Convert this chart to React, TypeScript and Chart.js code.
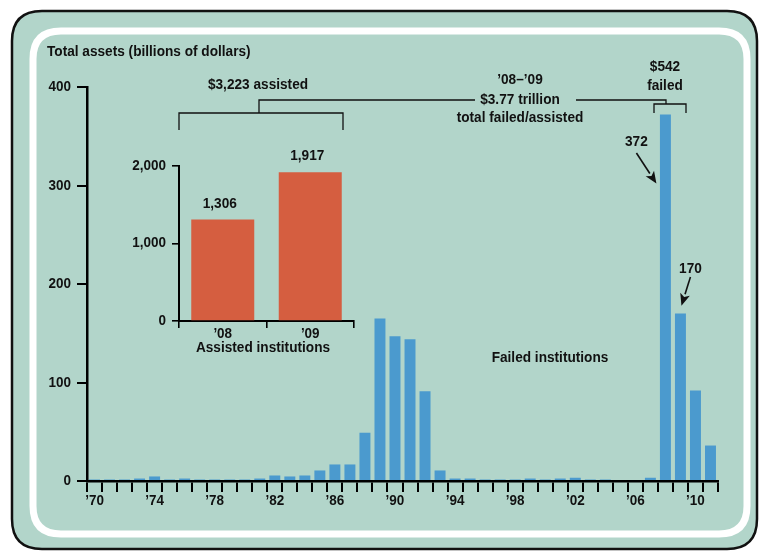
import React, { useEffect, useRef } from "react";
import { Chart, registerables } from "chart.js";

Chart.register(...registerables);

// ---------- data ----------
const categories = [
  "1970", "1971", "1972", "1973", "1974", "1975", "1976", "1977", "1978", "1979",
  "1980", "1981", "1982", "1983", "1984", "1985", "1986", "1987", "1988", "1989",
  "1990", "1991", "1992", "1993", "1994", "1995", "1996", "1997", "1998", "1999",
  "2000", "2001", "2002", "2003", "2004", "2005", "2006", "2007", "2008", "2009",
  "2010", "2011",
];
const failedAssets = [
  1.5, 1.5, 1.5, 2.5, 4.6, 1.5, 2.5, 1.5, 1.5, 1.5,
  1.5, 2.5, 5.6, 4.6, 5.6, 10.7, 16.8, 16.8, 49, 165,
  147, 144, 91, 10.7, 2.5, 2.5, 1.5, 1.5, 1.5, 2.5,
  1.5, 2.5, 3.3, 1.5, 1.5, 0, 0, 3.3, 372, 170,
  92, 36,
];
const labeledYears = ["1970", "1974", "1978", "1982", "1986", "1990", "1994", "1998", "2002", "2006", "2010"];
const xTickLabels = ["’70", "’74", "’78", "’82", "’86", "’90", "’94", "’98", "’02", "’06", "’10"];
const mainYMax = 400;
const mainYStep = 100;

const assistedCategories = ["’08", "’09"];
const assistedAssets = [1306, 1917];
const insetYMax = 2000;
const insetYStep = 1000;

// ---------- styles ----------
const FONT = "'Liberation Sans', Arial, sans-serif";
const TEAL = "#B2D5CA";
const BLUE = "#4B9ACE";
const ORANGE = "#D55E40";
const INK = "#111111";
const TICK_SIZE = 14.5;
const TICK_SX = 0.93;
const NOTE_SIZE = 15.5;
const NOTE_SX = 0.88;

function roundRectPath(ctx: CanvasRenderingContext2D, x: number, y: number, w: number, h: number, r: number) {
  ctx.beginPath();
  ctx.moveTo(x + r, y);
  ctx.lineTo(x + w - r, y);
  ctx.quadraticCurveTo(x + w, y, x + w, y + r);
  ctx.lineTo(x + w, y + h - r);
  ctx.quadraticCurveTo(x + w, y + h, x + w - r, y + h);
  ctx.lineTo(x + r, y + h);
  ctx.quadraticCurveTo(x, y + h, x, y + h - r);
  ctx.lineTo(x, y + r);
  ctx.quadraticCurveTo(x, y, x + r, y);
  ctx.closePath();
}

function text(
  ctx: CanvasRenderingContext2D,
  s: string,
  x: number,
  y: number,
  size = NOTE_SIZE,
  align: CanvasTextAlign = "center",
  sx = NOTE_SX
) {
  ctx.save();
  ctx.font = `bold ${size}px ${FONT}`;
  ctx.fillStyle = INK;
  ctx.textAlign = align;
  ctx.textBaseline = "middle";
  ctx.translate(x, y);
  ctx.scale(sx, 1);
  ctx.fillText(s, 0, 0);
  ctx.restore();
}

function tickText(ctx: CanvasRenderingContext2D, s: string, x: number, y: number, align: CanvasTextAlign = "center") {
  text(ctx, s, x, y, TICK_SIZE, align, TICK_SX);
}

function line(ctx: CanvasRenderingContext2D, pts: number[][]) {
  ctx.beginPath();
  ctx.moveTo(pts[0][0], pts[0][1]);
  for (let i = 1; i < pts.length; i++) ctx.lineTo(pts[i][0], pts[i][1]);
  ctx.stroke();
}

function arrow(ctx: CanvasRenderingContext2D, x1: number, y1: number, x2: number, y2: number) {
  const ang = Math.atan2(y2 - y1, x2 - x1);
  const hl = 12;
  const hw = 5;
  const bx = x2 - hl * Math.cos(ang);
  const by = y2 - hl * Math.sin(ang);
  ctx.lineWidth = 1.6;
  ctx.strokeStyle = INK;
  line(ctx, [[x1, y1], [bx, by]]);
  ctx.beginPath();
  ctx.moveTo(x2, y2);
  ctx.lineTo(bx + hw * Math.sin(ang), by - hw * Math.cos(ang));
  ctx.lineTo(bx + 3 * Math.cos(ang), by + 3 * Math.sin(ang));
  ctx.lineTo(bx - hw * Math.sin(ang), by + hw * Math.cos(ang));
  ctx.closePath();
  ctx.fillStyle = INK;
  ctx.fill();
}

const framePlugin = {
  id: "frame",
  beforeDraw(chart: any) {
    const ctx = chart.ctx as CanvasRenderingContext2D;
    ctx.save();
    ctx.fillStyle = "#ffffff";
    ctx.fillRect(0, 0, chart.width, chart.height);
    roundRectPath(ctx, 12, 11, 745, 538, 30);
    ctx.fillStyle = TEAL;
    ctx.fill();
    ctx.lineWidth = 2.5;
    ctx.strokeStyle = "#111";
    ctx.stroke();
    roundRectPath(ctx, 33, 31, 714, 503, 28);
    ctx.lineWidth = 7;
    ctx.strokeStyle = "#ffffff";
    ctx.stroke();
    ctx.restore();
  },
  afterDraw(chart: any) {
    const ctx = chart.ctx as CanvasRenderingContext2D;
    const xs = chart.scales.x;
    const ys = chart.scales.y;
    ctx.save();

    // tick labels
    categories.forEach((c, i) => {
      const k = labeledYears.indexOf(c);
      if (k >= 0) tickText(ctx, xTickLabels[k], xs.getPixelForTick(i), xs.bottom - 71 + 20);
    });
    for (let v = 0; v <= mainYMax; v += mainYStep) {
      tickText(ctx, String(v), ys.right - 16, ys.getPixelForValue(v), "right");
    }

    text(ctx, "Total assets (billions of dollars)", 47, 52, NOTE_SIZE, "left");

    // assisted bracket
    text(ctx, "$3,223 assisted", 258, 85);
    ctx.strokeStyle = INK;
    ctx.lineWidth = 1.3;
    line(ctx, [[179, 130], [179, 113], [343, 113], [343, 130]]);
    line(ctx, [[259, 113], [259, 100], [475, 100]]);

    // total
    text(ctx, "’08–’09", 520, 80);
    text(ctx, "$3.77 trillion", 520, 100);
    text(ctx, "total failed/assisted", 520, 118);
    ctx.lineWidth = 1.3;
    ctx.strokeStyle = INK;
    line(ctx, [[576, 100], [666, 100], [666, 104]]);
    line(ctx, [[654, 113], [654, 104], [686, 104], [686, 113]]);

    text(ctx, "$542", 665, 67);
    text(ctx, "failed", 665, 86);

    // value callouts
    const i08 = categories.indexOf("2008");
    const i09 = categories.indexOf("2009");
    const x08 = xs.getPixelForValue(i08);
    const x09 = xs.getPixelForValue(i09);
    text(ctx, String(failedAssets[i08]), x08 - 29, ys.getPixelForValue(344));
    arrow(ctx, x08 - 29, ys.getPixelForValue(333), x08 - 9, ys.getPixelForValue(302));
    text(ctx, String(failedAssets[i09]), x09 + 10, ys.getPixelForValue(216));
    arrow(ctx, x09 + 10, ys.getPixelForValue(207), x09 + 1, ys.getPixelForValue(178));

    text(ctx, "Failed institutions", 550, 358);
    text(ctx, "Assisted institutions", 263, 348);
    ctx.restore();
  },
};

const insetLabelPlugin = {
  id: "insetLabels",
  afterDraw(chart: any) {
    const ctx = chart.ctx as CanvasRenderingContext2D;
    const xs = chart.scales.x;
    const ys = chart.scales.y;
    const meta = chart.getDatasetMeta(0);
    ctx.save();
    meta.data.forEach((bar: any, i: number) => {
      text(ctx, assistedAssets[i].toLocaleString("en-US"), bar.x - 3, bar.y - 16);
    });
    assistedCategories.forEach((c, i) => {
      tickText(ctx, c, xs.getPixelForTick(i), xs.top + 13);
    });
    for (let v = 0; v <= insetYMax; v += insetYStep) {
      tickText(ctx, v.toLocaleString("en-US"), ys.right - 13, ys.getPixelForValue(v), "right");
    }
    ctx.restore();
  },
};

export default function App() {
  const mainRef = useRef<HTMLCanvasElement>(null);
  const insetRef = useRef<HTMLCanvasElement>(null);

  useEffect(() => {
    document.body.style.margin = "0";

    const main = new Chart(mainRef.current!, {
      type: "bar",
      data: {
        labels: categories,
        datasets: [
          {
            data: failedAssets,
            backgroundColor: BLUE,
            borderWidth: 0,
            barPercentage: 0.73,
            categoryPercentage: 1,
          },
        ],
      },
      options: {
        animation: false,
        responsive: false,
        layout: { padding: { left: 0, right: 44, top: 87, bottom: 0 } },
        plugins: { legend: { display: false }, tooltip: { enabled: false } },
        scales: {
          x: {
            offset: true,
            afterFit: (s: any) => {
              s.height = 71;
            },
            border: { display: true, color: "#000", width: 2.5 },
            grid: { display: true, offset: true, drawOnChartArea: false, drawTicks: true, tickLength: 11, color: "#000", lineWidth: 2 },
            ticks: { display: false, autoSkip: false },
          },
          y: {
            min: 0,
            max: mainYMax,
            afterFit: (s: any) => {
              s.width = 87;
            },
            border: { display: true, color: "#000", width: 2.5 },
            grid: { display: true, drawOnChartArea: false, drawTicks: true, tickLength: 10, color: "#000", lineWidth: 2 },
            ticks: { display: false, stepSize: mainYStep },
          },
        },
      },
      plugins: [framePlugin],
    });

    const inset = new Chart(insetRef.current!, {
      type: "bar",
      data: {
        labels: assistedCategories,
        datasets: [
          {
            data: assistedAssets,
            backgroundColor: ORANGE,
            borderWidth: 0,
            barPercentage: 0.72,
            categoryPercentage: 1,
          },
        ],
      },
      options: {
        animation: false,
        responsive: false,
        layout: { padding: { left: 0, right: 26, top: 25.7, bottom: 0 } },
        plugins: { legend: { display: false }, tooltip: { enabled: false } },
        scales: {
          x: {
            offset: true,
            afterFit: (s: any) => {
              s.height = 49;
            },
            border: { display: true, color: "#000", width: 2 },
            grid: { display: true, offset: true, drawOnChartArea: false, drawTicks: true, tickLength: 7, color: "#000", lineWidth: 1.6 },
            ticks: { display: false, autoSkip: false },
          },
          y: {
            min: 0,
            max: insetYMax,
            afterFit: (s: any) => {
              s.width = 79;
            },
            border: { display: true, color: "#000", width: 2 },
            grid: { display: true, drawOnChartArea: false, drawTicks: true, tickLength: 7, color: "#000", lineWidth: 1.6 },
            ticks: { display: false, stepSize: insetYStep },
          },
        },
      },
      plugins: [insetLabelPlugin],
    });

    return () => {
      main.destroy();
      inset.destroy();
    };
  }, []);

  return (
    <div style={{ position: "relative", width: 762, height: 552 }}>
      <canvas ref={mainRef} width={762} height={552} style={{ position: "absolute", left: 0, top: 0, width: 762, height: 552 }} />
      <canvas ref={insetRef} width={280} height={230} style={{ position: "absolute", left: 100, top: 140, width: 280, height: 230 }} />
    </div>
  );
}
